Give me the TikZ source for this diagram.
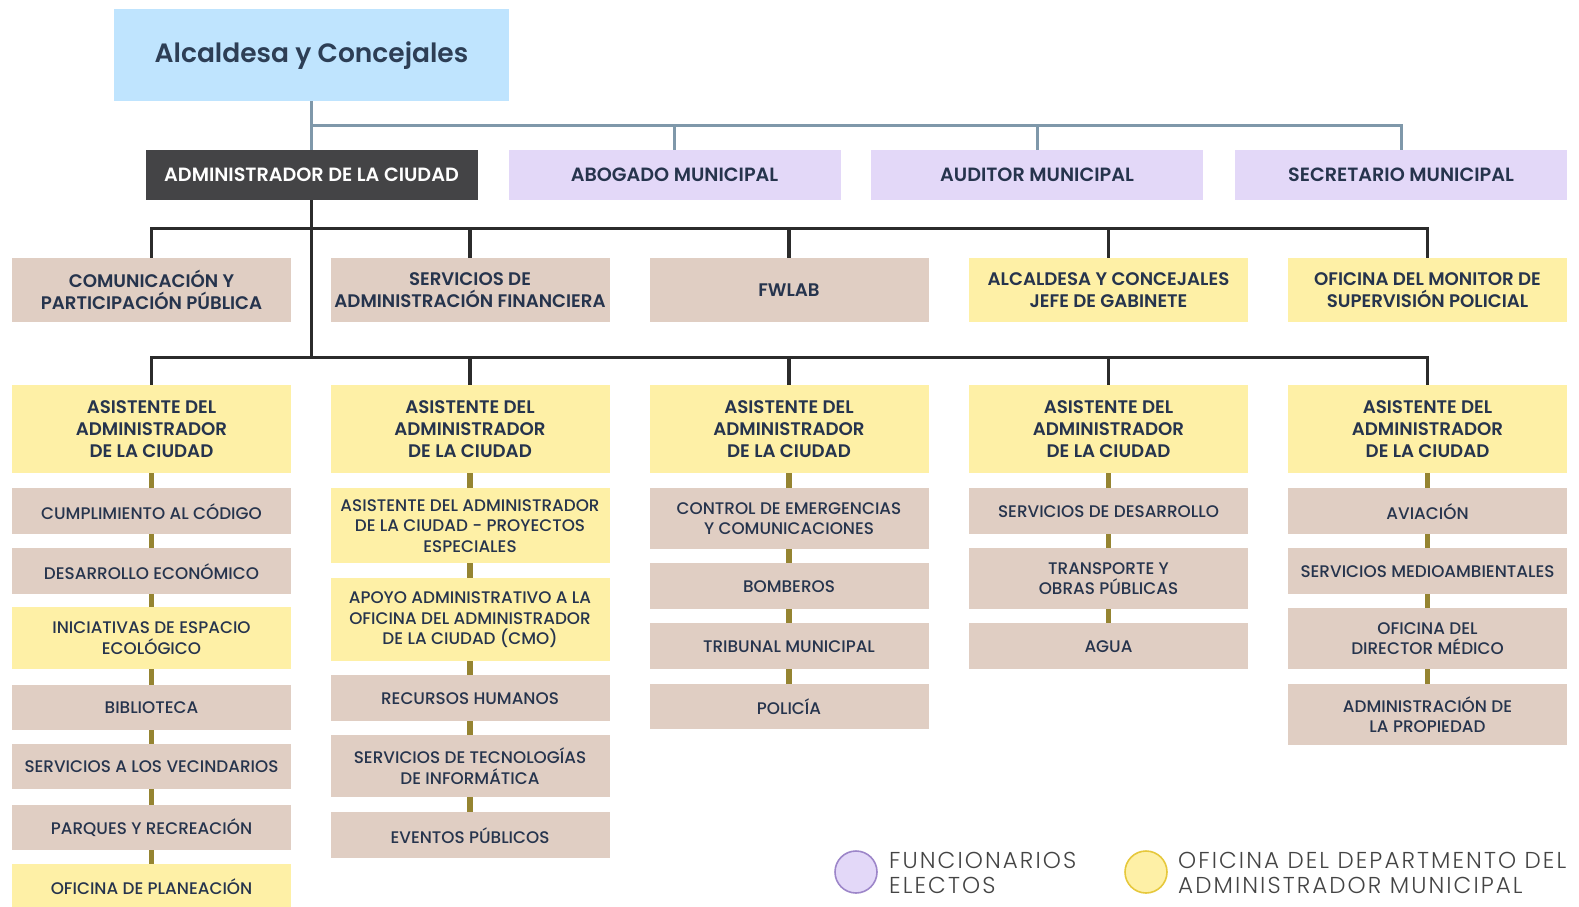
\documentclass[tikz,border=0pt]{standalone}
\usepackage{fontspec}
\setmainfont{Poppins}[UprightFont=* Medium, BoldFont=* SemiBold]
\newfontfamily\legendfont{Poppins Light}[LetterSpace=9]
\definecolor{titlefill}{HTML}{BFE4FE}
\definecolor{titletext}{HTML}{2D3E55}
\definecolor{adminfill}{HTML}{444446}
\definecolor{electfill}{HTML}{E3D8F8}
\definecolor{electedge}{HTML}{9D86C9}
\definecolor{deptfill}{HTML}{E0CEC3}
\definecolor{officefill}{HTML}{FEF0A6}
\definecolor{officeedge}{HTML}{E6C83C}
\definecolor{navytext}{HTML}{26344D}
\definecolor{grayline}{HTML}{7F98AA}
\definecolor{darkline}{HTML}{2B2B2B}
\definecolor{oliveline}{HTML}{958431}
\definecolor{legendtext}{HTML}{444444}
\tikzset{
  orgbox/.style={anchor=north, align=center, inner sep=0pt, text=navytext,
    minimum width=279pt},
  headbox/.style={orgbox, font=\bfseries\fontsize{18.2}{22}\selectfont},
  unitbox/.style={orgbox, font=\fontsize{16.8}{20.5}\selectfont},
  electbox/.style={orgbox, fill=electfill, minimum width=332pt, minimum height=50pt,
    font=\bfseries\fontsize{19.2}{22}\selectfont},
  dept/.style={fill=deptfill},
  office/.style={fill=officefill},
  busline/.style={darkline, line width=3.5pt},
  chainline/.style={oliveline, line width=5.5pt},
  mayorline/.style={grayline, line width=3pt},
  legdot/.style={circle, minimum size=42pt, inner sep=0pt, line width=1.6pt},
  legtext/.style={anchor=west, align=left, inner sep=0pt, text=legendtext,
    font=\legendfont\fontsize{23}{25.5}\selectfont}
}
\begin{document}
\begin{tikzpicture}[x=1pt, y=-1pt]
  \useasboundingbox (0,0) rectangle (1579,907);
  \pgfmathsetmacro{\cA}{151.5}
  \pgfmathsetmacro{\cB}{470}
  \pgfmathsetmacro{\cC}{789}
  \pgfmathsetmacro{\cD}{1108.5}
  \pgfmathsetmacro{\cE}{1427.5}
  \pgfmathsetmacro{\rowa}{258}
  \pgfmathsetmacro{\rowb}{385}
  % mayor and elected officials
  \node[anchor=north, fill=titlefill, minimum width=395pt, minimum height=92pt,
        text=titletext, font=\bfseries\fontsize{26.5}{32}\selectfont] (mayor) at (311.5, 9) {Alcaldesa y Concejales};
  \node[electbox, fill=adminfill, text=white] (admin) at (311.5, 150) {ADMINISTRADOR DE LA CIUDAD};
  \node[electbox] (lawyer) at (674.5, 150) {ABOGADO MUNICIPAL};
  \node[electbox] (auditor) at (1037, 150) {AUDITOR MUNICIPAL};
  \node[electbox] (clerk) at (1401, 150) {SECRETARIO MUNICIPAL};
  \draw[mayorline] (mayor.south) -- (admin.north);
  \foreach \n in {lawyer, auditor, clerk}
    \draw[mayorline] (mayor.south) ++(0,24) -| (\n.north);
  % offices reporting to the city manager
  \node[headbox, dept, minimum height=64pt] (comm) at (\cA, \rowa) {COMUNICACIÓN Y\\PARTICIPACIÓN PÚBLICA};
  \node[headbox, dept, minimum height=64pt] (finance) at (\cB, \rowa) {SERVICIOS DE\\ADMINISTRACIÓN FINANCIERA};
  \node[headbox, dept, minimum height=64pt] (fwlab) at (\cC, \rowa) {FWLAB};
  \node[headbox, office, minimum height=64pt] (staff) at (\cD, \rowa) {ALCALDESA Y CONCEJALES\\JEFE DE GABINETE};
  \node[headbox, office, minimum height=64pt] (police) at (\cE, \rowa) {OFICINA DEL MONITOR DE\\SUPERVISIÓN POLICIAL};
  \foreach \n in {comm, finance, fwlab, staff, police}
    \draw[busline] (admin.south) ++(0,28) -| (\n.north);
  \draw[busline] (admin.south) -- ++(0,28);
  % assistant city managers
  \foreach \n/\c in {asstA/\cA, asstB/\cB, asstC/\cC, asstD/\cD, asstE/\cE}
    \node[headbox, office, minimum height=88pt] (\n) at (\c, \rowb) {ASISTENTE DEL\\ADMINISTRADOR\\DE LA CIUDAD};
  \foreach \n in {asstA, asstB, asstC, asstD, asstE}
    \draw[busline] (admin.south) -- ++(0,157) -| (\n.north);
  % first column
  \node[unitbox, dept, minimum height=46pt] (codeA) at (\cA, 488) {CUMPLIMIENTO AL CÓDIGO};
  \node[unitbox, dept, minimum height=46pt] (econA) at (\cA, 548) {DESARROLLO ECONÓMICO};
  \node[unitbox, office, minimum height=62pt] (greenA) at (\cA, 607) {INICIATIVAS DE ESPACIO\\ECOLÓGICO};
  \node[unitbox, dept, minimum height=45pt] (libA) at (\cA, 685) {BIBLIOTECA};
  \node[unitbox, dept, minimum height=45pt] (neighA) at (\cA, 744) {SERVICIOS A LOS VECINDARIOS};
  \node[unitbox, dept, minimum height=45pt] (parksA) at (\cA, 805) {PARQUES Y RECREACIÓN};
  \node[unitbox, office, minimum height=44pt] (planA) at (\cA, 864) {OFICINA DE PLANEACIÓN};
  % second column
  \node[unitbox, office, minimum height=75pt] (projB) at (\cB, 488) {ASISTENTE DEL ADMINISTRADOR\\DE LA CIUDAD - PROYECTOS\\ESPECIALES};
  \node[unitbox, office, minimum height=83pt] (cmoB) at (\cB, 578) {APOYO ADMINISTRATIVO A LA\\OFICINA DEL ADMINISTRADOR\\DE LA CIUDAD (CMO)};
  \node[unitbox, dept, minimum height=46pt] (hrB) at (\cB, 675) {RECURSOS HUMANOS};
  \node[unitbox, dept, minimum height=62pt] (itB) at (\cB, 735) {SERVICIOS DE TECNOLOGÍAS\\DE INFORMÁTICA};
  \node[unitbox, dept, minimum height=46pt] (eventB) at (\cB, 812) {EVENTOS PÚBLICOS};
  % third column
  \node[unitbox, dept, minimum height=61pt] (emergC) at (\cC, 488) {CONTROL DE EMERGENCIAS\\Y COMUNICACIONES};
  \node[unitbox, dept, minimum height=46pt] (fireC) at (\cC, 563) {BOMBEROS};
  \node[unitbox, dept, minimum height=46pt] (courtC) at (\cC, 623) {TRIBUNAL MUNICIPAL};
  \node[unitbox, dept, minimum height=45pt] (policeC) at (\cC, 684) {POLICÍA};
  % fourth column
  \node[unitbox, dept, minimum height=46pt] (devD) at (\cD, 488) {SERVICIOS DE DESARROLLO};
  \node[unitbox, dept, minimum height=61pt] (tpwD) at (\cD, 548) {TRANSPORTE Y\\OBRAS PÚBLICAS};
  \node[unitbox, dept, minimum height=46pt] (waterD) at (\cD, 623) {AGUA};
  % fifth column
  \node[unitbox, dept, minimum height=46pt] (aviaE) at (\cE, 488) {AVIACIÓN};
  \node[unitbox, dept, minimum height=46pt] (envE) at (\cE, 548) {SERVICIOS MEDIOAMBIENTALES};
  \node[unitbox, dept, minimum height=61pt] (medE) at (\cE, 608) {OFICINA DEL\\DIRECTOR MÉDICO};
  \node[unitbox, dept, minimum height=61pt] (propE) at (\cE, 684) {ADMINISTRACIÓN DE\\LA PROPIEDAD};
  \foreach \a/\b in {asstA/codeA, codeA/econA, econA/greenA, greenA/libA, libA/neighA,
                     neighA/parksA, parksA/planA,
                     asstB/projB, projB/cmoB, cmoB/hrB, hrB/itB, itB/eventB,
                     asstC/emergC, emergC/fireC, fireC/courtC, courtC/policeC,
                     asstD/devD, devD/tpwD, tpwD/waterD,
                     asstE/aviaE, aviaE/envE, envE/medE, medE/propE}
    \draw[chainline] (\a.south) -- (\b.north);
  % legend
  \node[legdot, fill=electfill, draw=electedge] (legElect) at (856, 872) {};
  \node[legtext] (legElectText) at (889, 873) {FUNCIONARIOS\\ELECTOS};
  \node[legdot, fill=officefill, draw=officeedge] (legOffice) at (1146, 872) {};
  \node[legtext] (legOfficeText) at (1178, 873) {OFICINA DEL DEPARTMENTO DEL\\ADMINISTRADOR MUNICIPAL};
\end{tikzpicture}
\end{document}
